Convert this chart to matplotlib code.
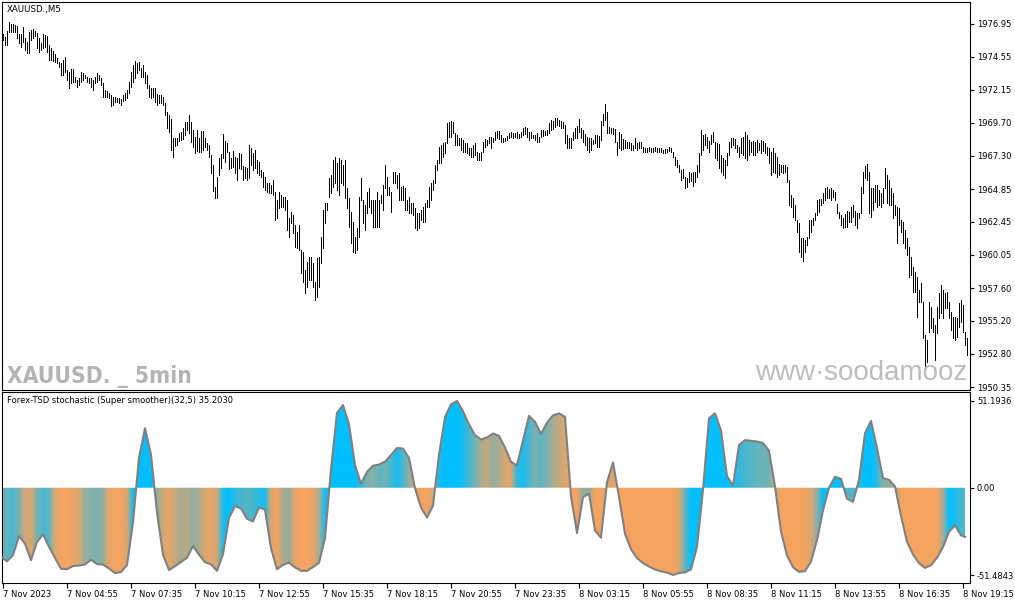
import numpy as np
import matplotlib
matplotlib.use("Agg")
import matplotlib.pyplot as plt
from matplotlib.colors import to_rgb
from matplotlib.patches import PathPatch
from matplotlib import font_manager as fm

# ---- price bars (XAUUSD M5), high / low of each bar ----
high = [
    1976.22, 1976.02, 1976.46, 1977.07, 1976.93, 1976.93, 1976.88, 1976.83, 1976.22, 1976.22,
    1976.71, 1975.90, 1975.66, 1976.39, 1976.51, 1976.58, 1976.46, 1976.27, 1975.90, 1975.53,
    1976.22, 1976.14, 1976.10, 1975.41, 1975.17, 1974.99, 1974.73, 1974.48, 1974.19, 1974.07,
    1974.31, 1974.56, 1973.58, 1973.46, 1973.65, 1973.65, 1973.09, 1972.85, 1972.97, 1973.46,
    1973.34, 1973.21, 1973.09, 1972.97, 1972.97, 1972.85, 1973.09, 1973.34, 1973.21, 1972.97,
    1972.60, 1972.12, 1972.04, 1971.87, 1971.75, 1971.63, 1971.58, 1971.55, 1971.51, 1971.46,
    1971.75, 1971.87, 1972.12, 1972.73, 1973.46, 1973.95, 1974.24, 1974.07, 1974.19, 1973.70,
    1973.95, 1973.46, 1973.21, 1972.48, 1972.29, 1972.24, 1972.29, 1971.80, 1971.75, 1971.75,
    1971.63, 1971.14, 1970.53, 1970.28, 1969.99, 1968.57, 1968.62, 1968.62, 1968.94, 1969.06,
    1969.31, 1969.75, 1969.80, 1970.28, 1969.80, 1969.19, 1968.70, 1969.19, 1968.57, 1969.11,
    1969.11, 1968.57, 1968.21, 1968.09, 1967.35, 1966.62, 1965.03, 1965.77, 1967.11, 1967.40,
    1968.87, 1968.38, 1968.21, 1967.55, 1967.11, 1967.65, 1967.23, 1967.11, 1967.48, 1967.40,
    1966.57,
    1966.50, 1966.37, 1968.08, 1967.84, 1967.47, 1967.72, 1966.98, 1966.86, 1966.25, 1966.13,
    1965.76, 1965.27, 1965.27, 1965.15, 1965.52, 1964.66, 1964.05, 1964.66, 1964.42, 1964.30,
    1964.30, 1964.05, 1962.71, 1963.20, 1962.96, 1962.22, 1961.73, 1962.22, 1960.39, 1960.27,
    1958.93, 1959.54, 1959.90, 1959.90, 1959.41, 1958.07, 1959.78, 1959.90, 1961.37, 1963.32,
    1963.81, 1963.81, 1965.64, 1965.89, 1966.98, 1967.23, 1966.74, 1967.11, 1966.98, 1966.62,
    1966.98, 1964.91, 1964.18, 1963.20, 1962.47, 1961.37, 1961.98, 1964.30, 1965.64, 1964.05,
    1963.69, 1964.66, 1964.91, 1964.05, 1964.05, 1964.05, 1964.66, 1964.05, 1964.42, 1965.15,
    1966.62, 1965.76, 1965.03, 1964.66, 1966.13, 1966.13, 1965.89, 1966.01, 1965.03, 1965.08,
    1964.91, 1964.05, 1964.25, 1963.86, 1963.81, 1963.44, 1963.08, 1963.08, 1963.32, 1963.57,
    1963.81, 1964.05, 1965.03, 1965.27, 1965.52, 1966.62, 1966.98, 1967.96, 1968.08, 1968.21,
    1968.33, 1969.67, 1969.79, 1969.87, 1969.79, 1968.94, 1968.82, 1968.57, 1968.57, 1968.45,
    1968.21, 1968.21, 1967.84, 1967.84, 1968.08, 1968.21, 1967.59, 1967.47, 1967.59, 1968.33,
    1968.50, 1968.45, 1968.69,
    1968.70, 1968.62, 1969.06, 1969.11, 1969.11, 1968.82, 1968.62, 1968.58, 1968.77, 1968.94,
    1969.06, 1968.94, 1968.94, 1969.02, 1968.87, 1969.06, 1969.36, 1969.41, 1969.31, 1969.06,
    1969.02, 1968.82, 1968.82, 1968.94, 1968.70, 1969.19, 1969.19, 1969.11, 1969.16, 1969.67,
    1969.92, 1969.85, 1970.04, 1970.04, 1969.92, 1969.85, 1969.80, 1969.55, 1968.82, 1968.58,
    1968.58, 1969.06, 1969.31, 1969.50, 1969.99, 1969.31, 1969.19, 1968.87, 1968.70, 1968.62,
    1968.58, 1968.45, 1968.82, 1968.82, 1968.77, 1969.85, 1970.33, 1971.07, 1970.53, 1969.43,
    1969.31, 1969.31, 1969.26, 1968.33, 1969.06, 1968.87, 1968.53, 1968.45, 1968.33, 1968.28,
    1968.21, 1968.09, 1968.58, 1968.21, 1968.28, 1968.28, 1967.96, 1967.89, 1967.84, 1967.96,
    1967.89, 1967.84, 1967.96, 1967.89, 1967.89, 1967.89, 1967.72, 1967.79, 1967.79, 1967.96,
    1967.89, 1967.60, 1967.23, 1966.99, 1966.62, 1966.26, 1966.33, 1965.77, 1965.65, 1966.08,
    1966.01, 1966.13, 1966.13, 1966.62, 1967.48, 1969.19, 1968.82, 1968.87, 1968.70, 1968.38,
    1968.82, 1969.06, 1968.33, 1968.21, 1968.14, 1967.35, 1967.11, 1966.99, 1967.47, 1968.33,
    1968.57, 1968.62, 1968.52, 1968.08, 1967.96, 1968.57, 1968.70, 1969.01, 1968.82, 1968.45,
    1968.33, 1968.38, 1968.28, 1968.45, 1968.21, 1968.45, 1968.38, 1968.21, 1967.96, 1967.84,
    1967.60, 1967.84, 1967.47, 1967.23, 1966.67, 1966.62, 1966.62, 1966.62, 1966.50, 1965.52,
    1964.42, 1964.18, 1963.69, 1962.59, 1962.35, 1961.25, 1961.25, 1961.12, 1961.37, 1962.59,
    1962.59, 1962.71, 1963.08, 1964.06, 1964.13, 1964.13, 1964.54, 1964.91, 1965.03, 1964.86,
    1964.96, 1964.79, 1964.67, 1963.74, 1963.15, 1962.96, 1962.71, 1963.01, 1963.25, 1963.20,
    1963.57, 1963.69, 1963.25, 1963.08, 1963.08, 1965.03, 1966.13, 1966.57, 1966.67, 1966.13,
    1964.91, 1964.91, 1965.15, 1965.15, 1964.79, 1964.54, 1964.91, 1966.38, 1965.89, 1965.52,
    1964.91, 1964.54, 1963.69, 1963.57, 1963.45, 1962.59, 1962.47, 1961.86, 1961.25, 1960.64,
    1959.90, 1959.17, 1958.80, 1958.44, 1957.46, 1957.95, 1956.61, 1954.17, 1953.80, 1956.61,
    1956.24, 1955.39, 1954.90, 1956.24, 1957.22, 1957.83, 1957.46, 1957.22, 1957.34, 1956.61,
    1955.87, 1955.51, 1955.51, 1955.39, 1956.48, 1956.73, 1956.36, 1954.41, 1953.92,
]
low = [
    1975.78, 1975.41, 1975.41, 1976.34, 1976.34, 1976.39, 1976.39, 1975.90, 1975.53, 1975.29,
    1975.66, 1975.05, 1974.80, 1974.85, 1975.78, 1975.90, 1976.10, 1975.17, 1974.92, 1975.05,
    1975.17, 1975.29, 1974.92, 1974.31, 1974.31, 1974.24, 1974.19, 1974.07, 1973.82, 1973.21,
    1973.21, 1973.46, 1972.85, 1972.29, 1972.60, 1972.73, 1972.73, 1972.31, 1972.48, 1972.73,
    1972.85, 1972.97, 1972.73, 1972.60, 1972.36, 1972.12, 1972.60, 1972.73, 1972.85, 1972.48,
    1971.63, 1971.63, 1971.63, 1971.51, 1970.97, 1971.02, 1971.26, 1971.21, 1971.14, 1971.02,
    1971.31, 1971.38, 1971.51, 1971.87, 1972.36, 1972.73, 1972.97, 1973.34, 1973.58, 1973.09,
    1973.09, 1972.60, 1972.29, 1971.63, 1971.51, 1971.63, 1971.26, 1971.02, 1971.14, 1971.14,
    1971.02, 1970.28, 1969.31, 1969.06, 1967.72, 1967.23, 1968.04, 1968.09, 1968.38, 1968.45,
    1968.53, 1968.82, 1969.19, 1968.94, 1968.33, 1967.96, 1967.48, 1967.65, 1967.60, 1967.60,
    1967.72, 1967.96, 1967.72, 1967.23, 1966.01, 1964.72, 1964.23, 1964.18, 1965.89, 1966.38,
    1967.11, 1966.86, 1967.60, 1966.33, 1966.38, 1966.50, 1966.01, 1965.52, 1966.38, 1966.33,
    1965.52,
    1965.64, 1965.52, 1965.64, 1966.62, 1966.25, 1966.37, 1966.01, 1965.89, 1965.76, 1965.03,
    1964.79, 1964.66, 1964.54, 1964.54, 1964.42, 1962.59, 1962.71, 1963.44, 1963.57, 1963.57,
    1963.32, 1961.86, 1961.37, 1962.34, 1961.61, 1960.63, 1960.51, 1960.39, 1958.68, 1958.07,
    1957.22, 1957.70, 1958.19, 1958.19, 1957.70, 1956.73, 1956.97, 1957.70, 1959.41, 1960.51,
    1962.34, 1963.32, 1964.30, 1964.54, 1965.03, 1965.27, 1964.79, 1964.42, 1965.27, 1965.15,
    1964.18, 1963.44, 1962.10, 1960.88, 1960.27, 1960.15, 1960.39, 1961.37, 1964.05, 1962.34,
    1961.86, 1963.08, 1963.57, 1963.08, 1962.10, 1962.10, 1962.10, 1962.10, 1963.81, 1963.32,
    1964.91, 1964.42, 1964.42, 1963.20, 1965.27, 1965.27, 1964.91, 1964.05, 1964.05, 1964.05,
    1963.32, 1963.32, 1963.13, 1963.08, 1962.96, 1961.98, 1961.86, 1961.98, 1962.59, 1962.47,
    1962.47, 1963.57, 1963.57, 1964.05, 1964.79, 1965.27, 1966.25, 1966.74, 1966.74, 1967.23,
    1967.47, 1968.21, 1968.69, 1968.69, 1968.94, 1968.08, 1968.08, 1968.08, 1967.72, 1967.59,
    1967.59, 1967.47, 1967.35, 1967.23, 1967.23, 1967.35, 1966.98, 1966.98, 1966.98, 1967.59,
    1967.96, 1968.08, 1968.21,
    1967.84, 1968.28, 1968.45, 1968.58, 1968.53, 1968.33, 1968.33, 1968.38, 1968.45, 1968.58,
    1968.70, 1968.62, 1968.70, 1968.58, 1968.58, 1968.70, 1968.82, 1968.87, 1968.70, 1968.45,
    1968.62, 1968.58, 1968.45, 1968.28, 1968.33, 1968.70, 1968.77, 1968.82, 1968.82, 1968.94,
    1969.19, 1969.26, 1969.43, 1969.55, 1969.50, 1969.31, 1969.36, 1968.21, 1967.84, 1967.89,
    1967.89, 1968.45, 1968.58, 1968.62, 1969.06, 1968.58, 1968.33, 1968.09, 1967.72, 1967.55,
    1967.72, 1968.14, 1968.21, 1967.92, 1967.96, 1968.45, 1969.55, 1969.92, 1968.94, 1968.94,
    1968.94, 1968.87, 1968.33, 1967.35, 1967.84, 1967.72, 1967.79, 1967.84, 1967.89, 1967.89,
    1967.72, 1967.72, 1967.84, 1967.72, 1967.84, 1967.89, 1967.55, 1967.55, 1967.55, 1967.65,
    1967.60, 1967.60, 1967.65, 1967.60, 1967.60, 1967.60, 1967.48, 1967.53, 1967.60, 1967.65,
    1967.60, 1967.23, 1966.62, 1966.50, 1966.13, 1965.52, 1965.69, 1964.96, 1965.03, 1965.35,
    1965.45, 1965.11, 1965.35, 1965.77, 1966.13, 1967.35, 1967.72, 1968.09, 1967.84, 1967.60,
    1968.14, 1968.33, 1967.11, 1966.99, 1966.43, 1966.13, 1965.89, 1965.64, 1966.62, 1967.35,
    1967.96, 1968.08, 1967.84, 1967.60, 1967.23, 1967.47, 1967.35, 1967.11, 1966.99, 1967.35,
    1967.60, 1967.35, 1967.35, 1967.55, 1967.72, 1967.47, 1967.65, 1967.47, 1967.35, 1966.74,
    1965.89, 1966.13, 1966.01, 1965.77, 1965.89, 1966.08, 1966.01, 1966.13, 1965.40, 1963.69,
    1963.57, 1962.83, 1962.59, 1961.74, 1960.27, 1959.90, 1959.59, 1960.27, 1960.76, 1961.25,
    1961.74, 1962.22, 1962.59, 1962.96, 1963.15, 1963.69, 1963.81, 1964.06, 1964.18, 1964.18,
    1964.06, 1964.30, 1964.06, 1963.08, 1962.76, 1962.22, 1961.98, 1962.10, 1962.10, 1962.47,
    1962.47, 1962.83, 1962.22, 1961.98, 1962.71, 1963.08, 1964.54, 1965.64, 1965.52, 1963.08,
    1962.83, 1963.32, 1963.93, 1963.57, 1963.69, 1963.57, 1963.81, 1964.91, 1963.81, 1963.69,
    1963.69, 1962.71, 1962.96, 1960.88, 1962.22, 1961.74, 1960.88, 1960.51, 1960.03, 1958.44,
    1958.56, 1957.34, 1957.34, 1955.51, 1956.61, 1956.61, 1953.92, 1951.48, 1952.21, 1954.41,
    1954.65, 1954.41, 1952.33, 1954.29, 1955.39, 1955.75, 1955.39, 1956.12, 1956.12, 1955.39,
    1954.53, 1953.92, 1953.80, 1954.04, 1954.78, 1955.14, 1954.41, 1953.43, 1952.70,
]

price_ticks = [1976.95, 1974.55, 1972.15, 1969.70, 1967.30, 1964.85,
               1962.45, 1960.05, 1957.60, 1955.20, 1952.80, 1950.35]

time_labels = ["7 Nov 2023", "7 Nov 04:55", "7 Nov 07:35", "7 Nov 10:15",
               "7 Nov 12:55", "7 Nov 15:35", "7 Nov 18:15", "7 Nov 20:55",
               "7 Nov 23:35", "8 Nov 03:15", "8 Nov 05:55", "8 Nov 08:35",
               "8 Nov 11:15", "8 Nov 13:55", "8 Nov 16:35", "8 Nov 19:15"]
time_label_bars = [0, 32, 64, 96, 128, 160, 192, 224,
                   256, 288, 320, 352, 384, 416, 448, 480]

# ---- stochastic (super smoother), sampled every 3rd bar ----
osc_bar = [-1, 2, 5, 8, 11, 14, 17, 20, 23, 26, 29, 32, 35, 38, 41, 44, 47, 50, 53, 56,
           59, 62, 65, 68, 71, 74, 77, 80, 83, 86, 89, 92, 95, 98, 101, 104, 107, 110,
           113, 116, 119, 122, 125, 128, 131, 134, 137, 140, 143, 146, 149, 152, 155,
           158, 161, 164, 167, 170, 173, 176, 179, 182, 185, 188, 191, 194, 197, 200,
           203, 206, 209, 212, 215, 218, 221, 224, 227, 230, 233, 236, 239, 242, 245,
           248, 251, 254, 257, 260, 263, 266, 269, 272, 275, 278, 281, 284, 287, 290,
           293, 296, 299, 302, 305, 308, 311, 314, 317, 320, 323, 326, 329, 332, 335,
           338, 341, 344, 347, 350, 353, 356, 359, 362, 365, 368, 371, 374, 377, 380,
           383, 386, 389, 392, 395, 398, 401, 404, 407, 410, 413, 416, 419, 422, 425,
           428, 431, 434, 437, 440, 443, 446, 449, 452, 455, 458, 461, 464, 467, 470,
           473, 476, 479, 481]
osc = [
    -40.5, -43.4, -39.8, -28.5, -33.0, -42.7, -32.0, -27.5, -34.8, -41.5,
    -47.8, -48.1, -46.2, -45.9, -45.3, -42.5, -45.0, -45.4, -47.6, -50.4,
    -49.7, -45.6, -20.5, 17.8, 35.1, 19.5, -14.5, -39.5, -48.6, -46.3,
    -43.8, -41.3, -34.4, -39.5, -43.9, -45.2, -49.0, -39.2, -17.8, -10.8,
    -12.2, -18.3, -19.9, -11.6, -12.9, -35.7, -48.1, -45.5, -44.2, -47.0,
    -49.0, -49.1, -46.8, -44.3, -29.8, 11.0, 44.2, 48.8, 37.5, 13.5,
    2.3, 9.4, 13.0, 13.7, 15.4, 19.3, 23.5, 23.1, 17.6, -0.3,
    -11.6, -17.6, -10.5, 19.4, 41.6, 49.2, 51.19, 45.2, 37.3, 31.0,
    28.5, 29.7, 32.0, 30.6, 23.7, 15.3, 13.2, 28.0, 42.4, 38.9,
    31.7, 38.4, 42.7, 43.9, 41.8, -5.0, -26.7, -5.6, -3.4, -25.2,
    -29.5, 3.2, 14.9, -5.3, -27.1, -36.3, -41.5, -44.4, -46.5, -48.2,
    -49.3, -50.1, -51.48, -50.3, -49.9, -48.2, -34.8, -1.2, 41.0, 43.9,
    33.8, 6.8, 1.3, 25.2, 28.1, 27.7, 27.3, 26.4, 21.9, 0.8,
    -25.8, -39.9, -46.9, -49.6, -49.2, -43.5, -31.0, -13.3, 0.0, 6.5,
    5.3, -6.5, -8.3, 4.6, 32.2, 39.4, 23.4, 5.7, 4.7, 0.8,
    -16.6, -31.8, -39.4, -44.5, -47.3, -45.7, -41.3, -35.0, -26.0, -22.2,
    -28.1, -29.0,
]
# colour index: 0 = deep sky blue, 1 = sandy brown
osc_mix = [
    0.5, 0.4, 0.3, 0.5, 0.85, 0.9, 0.5, 0.3, 0.35, 0.9,
    1.0, 1.0, 0.95, 0.9, 0.6, 0.55, 0.5, 0.6, 0.95, 1.0,
    1.0, 0.9, 0.1, 0.0, 0.0, 0.0, 0.6, 0.85, 0.95, 0.8,
    0.7, 0.75, 0.6, 0.7, 0.9, 0.95, 0.85, 0.1, 0.0, 0.2,
    0.3, 0.35, 0.3, 0.15, 0.1, 0.9, 1.0, 0.7, 0.6, 0.95,
    1.0, 1.0, 0.95, 0.7, 0.1, 0.0, 0.0, 0.0, 0.0, 0.0,
    0.2, 0.5, 0.55, 0.4, 0.45, 0.3, 0.1, 0.3, 0.6, 0.9,
    1.0, 1.0, 0.9, 0.1, 0.0, 0.0, 0.0, 0.1, 0.3, 0.45,
    0.7, 0.8, 0.6, 0.7, 0.9, 0.9, 0.2, 0.1, 0.3, 0.5,
    0.4, 0.5, 0.7, 0.8, 0.9, 1.0, 1.0, 0.6, 0.6, 1.0,
    1.0, 0.9, 0.9, 1.0, 1.0, 1.0, 1.0, 1.0, 1.0, 1.0,
    1.0, 1.0, 1.0, 0.9, 0.4, 0.0, 0.0, 0.0, 0.0, 0.0,
    0.0, 0.0, 0.1, 0.2, 0.3, 0.35, 0.4, 0.45, 0.45, 0.8,
    1.0, 1.0, 1.0, 1.0, 1.0, 0.9, 0.6, 0.0, 0.0, 0.0,
    0.0, 0.35, 0.35, 0.2, 0.0, 0.0, 0.2, 0.55, 0.6, 0.7,
    1.0, 1.0, 1.0, 1.0, 1.0, 1.0, 1.0, 0.7, 0.0, 0.1,
    0.3, 0.3,
]
osc_ticks = [51.1936, 0.0, -51.4843]

plt.rcParams["font.family"] = ["DejaVu Sans"]
W, H = 1015, 605
fig = plt.figure(figsize=(W / 100, H / 100), dpi=100)


def pane(left, top, right, bottom):
    return fig.add_axes([left / W, 1 - bottom / H, (right - left) / W, (bottom - top) / H])


def narrow_bold_font():
    # a condensed / narrow bold face if one is installed, else a plain bold sans
    for f in fm.fontManager.ttflist:
        narrow = ("Narrow" in f.name or "Condensed" in f.name
                  or str(f.stretch) in ("condensed", "semi-condensed", "extra-condensed"))
        weight = f.weight if isinstance(f.weight, int) else (700 if "bold" in str(f.weight) else 400)
        if narrow and weight >= 600 and "Oblique" not in f.style and f.style == "normal":
            return fm.FontProperties(fname=f.fname)
    return fm.FontProperties(family="Liberation Sans", weight="bold")


ax1 = pane(2, 2, 970, 390)
ax2 = pane(2, 392, 970, 583)

# top pane: bars
bars = np.arange(len(high))
ax1.vlines(bars, low, high, colors="black", linewidth=0.72, antialiased=False)
ax1.set_xlim(-0.5, 483.5)
ax1.set_ylim(1950.14, 1978.56)
ax1.set_xticks([])
ax1.yaxis.tick_right()
ax1.set_yticks(price_ticks, [f"{v:.2f}" for v in price_ticks])
ax1.tick_params(axis="y", direction="out", length=3, width=0.8, pad=2, labelsize=6)

ax1.text(0.005, 0.992, "XAUUSD.,M5", transform=ax1.transAxes, ha="left", va="top",
         fontsize=6.2)
wm = ax1.text(0.005, 0.017, "XAUUSD. _ 5min", transform=ax1.transAxes, ha="left",
              va="baseline", color="#b4b4b4", fontproperties=narrow_bold_font())
wm.set_fontsize(24)
ax1.text(0.778, 0.026, "www·soodamooz·com", transform=ax1.transAxes, ha="left",
         va="baseline", fontsize=20, color="#bdbdbd", family=["Liberation Sans"],
         clip_on=True)

# bottom pane: gradient filled oscillator
osc_bar = np.array(osc_bar)
osc = np.array(osc)
mix = np.array(osc_mix)[:, None]
blue = np.array(to_rgb("#00bfff"))
orange = np.array(to_rgb("#f4a460"))
cols = blue * (1 - mix) + orange * mix

lo, hi = -56.2, 56.5
area = ax2.fill_between(osc_bar, 0, osc, facecolor="none", edgecolor="none")
clip = PathPatch(area.get_paths()[0], transform=ax2.transData,
                 facecolor="none", edgecolor="none")
ax2.add_patch(clip)
img = ax2.imshow(np.repeat(cols[None], 2, axis=0), extent=[-2.5, 483.5, lo, hi],
                 aspect="auto", interpolation="bilinear", origin="lower", zorder=1)
img.set_clip_path(clip)
ax2.plot(osc_bar, osc, color="#808080", lw=1.5, zorder=3, solid_joinstyle="round")

ax2.set_xlim(-0.5, 483.5)
ax2.set_ylim(lo, hi)
ax2.yaxis.tick_right()
ax2.set_yticks(osc_ticks, ["51.1936", "0.00", "-51.4843"])
ax2.tick_params(axis="y", direction="out", length=3, width=0.8, pad=2, labelsize=6)
ax2.set_xticks(time_label_bars, time_labels)
ax2.tick_params(axis="x", direction="out", length=3.5, width=0.8, pad=1.5, labelsize=6)
for lab in ax2.get_xticklabels():
    lab.set_horizontalalignment("left")

ax2.text(0.005, 0.979, "Forex-TSD stochastic (Super smoother)(32,5) 35.2030",
         transform=ax2.transAxes, ha="left", va="top", fontsize=6)

for ax in (ax1, ax2):
    for sp in ax.spines.values():
        sp.set_linewidth(0.8)
        sp.set_color("black")

# fit the watermark to its width in the reference (about 185 px)
fig.canvas.draw()
w = wm.get_window_extent().width
wm.set_fontsize(24 * 185 / w)

fig.savefig("out.png", dpi=100)
